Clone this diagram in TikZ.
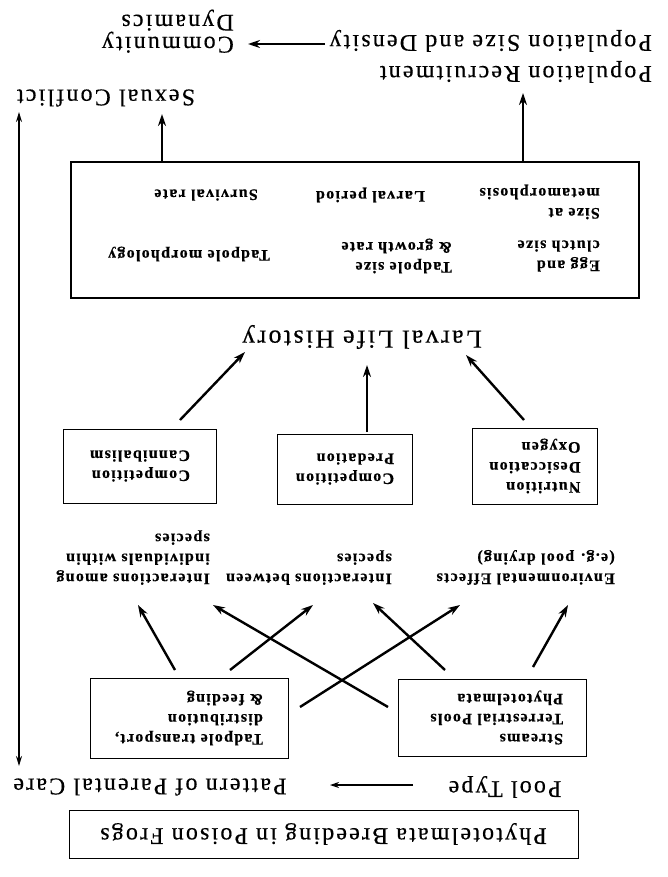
\documentclass[tikz,border=0pt]{standalone}
\usepackage{fontspec}
\setmainfont{Liberation Serif}
\newfontfamily\lgf[LetterSpace=9,FakeBold=0.4]{Liberation Serif}
\newfontfamily\bdf[LetterSpace=8,FakeBold=0.5]{Liberation Serif Bold}
\usetikzlibrary{arrows.meta,calc}
\begin{document}
\begin{tikzpicture}[x=1pt,y=-1pt,
  big/.style={font=\lgf\fontsize{24}{31}\selectfont, rotate=180, inner sep=0pt, align=left},
  sm/.style={font=\bdf\fontsize{16}{20}\selectfont, rotate=180, inner sep=0pt, align=left},
  box/.style={draw, line width=1pt, rotate=180, font=\bdf\fontsize{16}{20}\selectfont, align=left, inner sep=4pt},
  thk/.style={line width=2.4pt, -{Stealth[length=12pt,width=8pt]}},
  thn/.style={line width=1.3pt, -{Stealth[length=9pt,width=6pt]}}]
\useasboundingbox (0,0) rectangle (667,877);
% top
\node[big, anchor=north west, font=\lgf\fontsize{24}{21}\selectfont] (comm) at (234,53) {Community\\Dynamics};
\node[big, anchor=north west] (pop) at (652,83) {Population Recruitment\\Population Size and Density};
\node[big] (sex) at (106,98) {Sexual Conflict};
% big box
\node[draw, line width=1.2pt, rotate=180, minimum width=568pt, minimum height=136pt] (lhbox) at (355,230) {};
\node[sm, anchor=west] (egg) at (600,256) {Egg and\\clutch size};
\node[sm, anchor=west] (tsz) at (452,256) {Tadpole size\\\& growth rate};
\node[sm, anchor=west] (tmo) at (270,254) {Tadpole morphology};
\node[sm, anchor=west] (sam) at (600,202) {Size at\\metamorphosis};
\node[sm, anchor=west] (lp) at (425,195) {Larval period};
\node[sm, anchor=west] (sr) at (258,195) {Survival rate};
\node[big, font=\lgf\fontsize{26}{31}\selectfont] (llh) at (362,337) {Larval Life History};
% middle boxes
\node[box, minimum width=153pt, minimum height=74pt] (cann) at (140,466) {Competition\\Cannibalism};
\node[box, minimum width=135pt, minimum height=70pt] (pred) at (345,469) {Competition\\Predation};
\node[box, minimum width=125pt, minimum height=76pt] (nutr) at (535,466) {Nutrition\\Desiccation\\Oxygen};
% interaction row
\node[sm, anchor=north west] (among) at (210,585) {Interactions among\\individuals within\\species};
\node[sm, anchor=north west] (betw) at (392,585) {Interactions between\\species};
\node[sm, anchor=north west] (env) at (615,585) {Environmental Effects\\(e.g. pool drying)};
% bottom boxes
\node[box, minimum width=198pt, minimum height=80pt] (tad) at (189,718) {Tadpole transport,\\distribution\\\& feeding};
\node[box, text width=142pt, inner xsep=23pt, minimum height=77pt] (str) at (492,717.5) {Streams\\Terrestrial Pools\\Phytotelmata};
\node[big] (pool) at (505,787) {Pool Type};
\node[big] (pat) at (150,787) {Pattern of Parental Care};
\node[draw, line width=1pt, rotate=180, minimum width=509pt, minimum height=48pt, font=\lgf\fontsize{24}{31}\selectfont] (title) at (323.5,834) {Phytotelmata Breeding in Poison Frogs};
% coordinates for connector ends
\coordinate (popL) at (325,44);   \coordinate (commR) at (248,44);
\coordinate (boxTL) at (162,161); \coordinate (sexB) at (162,114);
\coordinate (boxTR) at (523,161); \coordinate (popB) at (523,93);
\coordinate (patT) at (19,766);   \coordinate (sexL) at (19,112);
\coordinate (cannT) at (180,420); \coordinate (llhL) at (245,352);
\coordinate (predT) at (367,432); \coordinate (llhM) at (367,365);
\coordinate (nutrT) at (524,420); \coordinate (llhR) at (466,355);
\coordinate (tadA) at (175,670);  \coordinate (amongA) at (138,605);
\coordinate (tadB) at (230,670);  \coordinate (betwB) at (313,605);
\coordinate (strC) at (388,707);  \coordinate (amongC) at (213,605);
\coordinate (tadD) at (300,707);  \coordinate (envD) at (460,605);
\coordinate (strE) at (445,670);  \coordinate (betwE) at (373,603);
\coordinate (strF) at (533,667);  \coordinate (envF) at (568,605);
\coordinate (poolL) at (413,785); \coordinate (patR) at (330,785);
% connectors
\draw[thk] (popL) -- (commR);
\draw[thk] (boxTL) -- (sexB);
\draw[thk] (boxTR) -- (popB);
\draw[line width=1.5pt, {Stealth[length=10pt,width=6pt]}-{Stealth[length=10pt,width=6pt]}] (patT) -- (sexL);
\draw[thk] (cannT) -- (llhL);
\draw[thk] (predT) -- (llhM);
\draw[thk] (nutrT) -- (llhR);
\draw[thk] (tadA) -- (amongA);
\draw[thk] (tadB) -- (betwB);
\draw[thk] (strC) -- (amongC);
\draw[thk] (tadD) -- (envD);
\draw[thk] (strE) -- (betwE);
\draw[thk] (strF) -- (envF);
\draw[thn] (poolL) -- (patR);
\end{tikzpicture}
\end{document}
